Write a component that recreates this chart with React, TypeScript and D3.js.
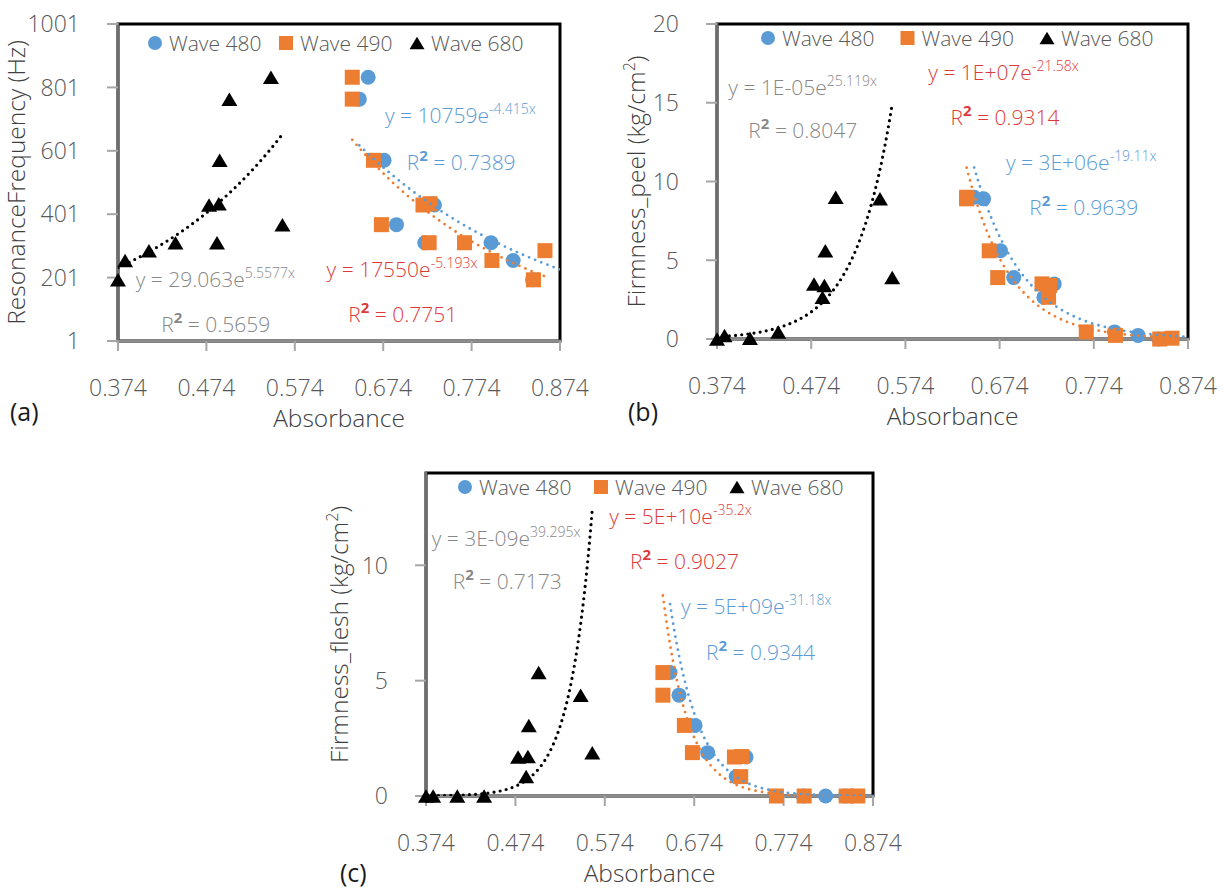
import React from 'react';
import * as d3 from 'd3';

const W = 1227;
const H = 890;
const FONT = "'Open Sans', 'DejaVu Sans', sans-serif";
const BLUE = '#5B9BD5';
const ORANGE = '#ED7D31';
const RED = '#DC3A3A';
const EQ_GRAY = '#878787';
const TEXT = '#595959';
const LIGHT = 300;

// absorbance of each sample at the three wavelengths
const absorbance480 = [0.843, 0.821, 0.88, 0.796, 0.732, 0.729, 0.721, 0.675, 0.647, 0.657, 0.689];
const absorbance490 = [0.844, 0.797, 0.857, 0.766, 0.719, 0.727, 0.726, 0.663, 0.639, 0.639, 0.672];
const absorbance680 = [0.374, 0.382, 0.409, 0.439, 0.477, 0.488, 0.486, 0.489, 0.5, 0.547, 0.56];

const resonanceHz = [194, 255, 286, 311, 430, 434, 311, 571, 764, 833, 368];
const firmnessPeel = [0, 0.23, 0.05, 0.45, 3.5, 3.4, 2.65, 5.6, 9.0, 8.9, 3.9];
const firmnessFlesh = [0, 0, 0, 0, 1.69, 1.71, 0.84, 3.06, 5.35, 4.37, 1.88];

const xTicks = [0.374, 0.474, 0.574, 0.674, 0.774, 0.874];
const rfTicks = [1, 201, 401, 601, 801, 1001];
const peelTicks = [0, 5, 10, 15, 20];
const fleshTicks = [0, 5, 10];
const seriesNames = ['Wave 480', 'Wave 490', 'Wave 680'];

// y = a * e^(b x), order: 480, 490, 680
const rfTrend = [[10759, -4.415], [17550, -5.193], [29.063, 5.5577]];
const peelTrend = [[2.55e6, -19.11], [1.06e7, -21.58], [1.16e-5, 25.119]];
const fleshTrend = [[4.8e9, -31.18], [5.1e10, -35.2], [3.45e-9, 39.295]];

// [coefficient, exponent, R²]
const rfEq = [['10759', '-4.415x', '0.7389'], ['17550', '-5.193x', '0.7751'], ['29.063', '5.5577x', '0.5659']];
const peelEq = [['3E+06', '-19.11x', '0.9639'], ['1E+07', '-21.58x', '0.9314'], ['1E-05', '25.119x', '0.8047']];
const fleshEq = [['5E+09', '-31.18x', '0.9344'], ['5E+10', '-35.2x', '0.9027'], ['3E-09', '39.295x', '0.7173']];

const seriesStyle = [
  { color: BLUE, shape: 'circle', text: BLUE },
  { color: ORANGE, shape: 'square', text: RED },
  { color: '#000', shape: 'triangle', text: EQ_GRAY },
];

// layout of each panel (pixels) and where its equation labels sit (data units: eqX, eqY, r2X, r2Y)
const panels = [
  {
    id: 'a', left: 118, right: 560, top: 24, bottom: 341, yDomain: [1, 1001], yTicks: rfTicks,
    values: resonanceHz, trend: rfTrend, eq: rfEq,
    labelPos: [[0.676, 688, 0.7006, 541], [0.61, 204, 0.6345, 62], [0.394, 171, 0.423, 30]],
    yTitle: ['ResonanceFrequency (Hz)', null], yTitleX: 25,
    legendX: 155, legendY: 43, legendStep: 131, letter: '(a)', letterX: 10, letterY: 421,
  },
  {
    id: 'b', left: 717, right: 1188, top: 24, bottom: 339, yDomain: [0, 20], yTicks: peelTicks,
    values: firmnessPeel, trend: peelTrend, eq: peelEq,
    labelPos: [[0.6808, 10.73, 0.7055, 7.87], [0.5983, 16.44, 0.622, 13.59], [0.386, 15.5, 0.4073, 12.74]],
    yTitle: ['Firmness_peel (kg/cm', ')'], yTitleX: 645,
    legendX: 768, legendY: 38, legendStep: 139.5, letter: '(b)', letterX: 628, letterY: 421,
  },
  {
    id: 'c', left: 426, right: 873, top: 473, bottom: 796, yDomain: [0, 14], yTicks: fleshTicks,
    values: firmnessFlesh, trend: fleshTrend, eq: fleshEq,
    labelPos: [[0.6592, 7.91, 0.6872, 5.91], [0.579, 11.78, 0.6022, 9.83], [0.3804, 10.84, 0.4039, 8.96]],
    yTitle: ['Firmness_flesh (kg/cm', ')'], yTitleX: 348,
    legendX: 465, legendY: 487, legendStep: 136, letter: '(c)', letterX: 340, letterY: 882,
  },
];

const absorbances = [absorbance480, absorbance490, absorbance680];

const Marker = ({ shape, color, x, y, s = 15 }) => {
  if (shape === 'circle') return <circle cx={x} cy={y} r={s / 2} fill={color} />;
  if (shape === 'square') return <rect x={x - s / 2} y={y - s / 2} width={s} height={s} fill={color} />;
  const h = s * 0.9;
  return <path d={`M${x},${y - h / 2}L${x + s / 2 + 0.5},${y + h / 2}L${x - s / 2 - 0.5},${y + h / 2}Z`} fill={color} />;
};

const Panel = ({ p }) => {
  const x = d3.scaleLinear().domain([0.374, 0.874]).range([p.left, p.right]);
  const y = d3.scaleLinear().domain(p.yDomain).range([p.bottom, p.top]);
  const clipId = `clip-${p.id}`;
  const midX = (p.left + p.right) / 2;
  const midY = (p.top + p.bottom) / 2;

  const trendPath = (si) => {
    const xs = absorbances[si];
    const [a, b] = p.trend[si];
    const [lo, hi] = d3.extent(xs);
    const pts = d3.range(0, 101).map((i) => lo + ((hi - lo) * i) / 100);
    return d3.line().x((d) => x(d)).y((d) => y(a * Math.exp(b * d)))(pts);
  };

  return (
    <g>
      <defs>
        <clipPath id={clipId}>
          <rect x={p.left} y={p.top - 2} width={p.right - p.left} height={p.bottom - p.top + 2} />
        </clipPath>
      </defs>
      <rect x={p.left} y={p.top} width={p.right - p.left} height={p.bottom - p.top} fill="#fff" stroke="#000" strokeWidth={3} />
      {/* axes */}
      <line x1={p.left} x2={p.left} y1={p.top - 1} y2={p.bottom} stroke="#6e6e6e" strokeWidth={2.5} />
      <line x1={p.left} x2={p.right + 1} y1={p.bottom} y2={p.bottom} stroke="#8c8c8c" strokeWidth={2.5} />
      {p.yTicks.map((t) => (
        <g key={`y${t}`}>
          <line x1={p.left - 11} x2={p.left} y1={y(t)} y2={y(t)} stroke="#a6a6a6" strokeWidth={2} />
          <text x={p.left - 38} y={y(t)} dy="0.36em" textAnchor="end" fontSize={23} fontWeight={LIGHT} fill={TEXT} fontFamily={FONT}>
            {t}
          </text>
        </g>
      ))}
      {xTicks.map((t) => (
        <g key={`x${t}`}>
          <line x1={x(t)} x2={x(t)} y1={p.bottom} y2={p.bottom + 10} stroke="#a6a6a6" strokeWidth={2} />
          <text x={x(t)} y={p.bottom + 55} textAnchor="middle" fontSize={23} fontWeight={LIGHT} fill={TEXT} fontFamily={FONT}>
            {t.toFixed(3)}
          </text>
        </g>
      ))}
      <text x={midX} y={p.bottom + 86} textAnchor="middle" fontSize={24.5} fontWeight={LIGHT} fill="#404040" fontFamily={FONT}>
        Absorbance
      </text>
      <text
        transform={`translate(${p.yTitleX},${midY}) rotate(-90)`}
        textAnchor="middle"
        fontSize={24.5}
        fontWeight={LIGHT}
        fill="#404040"
        fontFamily={FONT}
      >
        {p.yTitle[0]}
        {p.yTitle[1] && (
          <>
            <tspan dy={-10} fontSize={16}>2</tspan>
            <tspan dy={10}>{p.yTitle[1]}</tspan>
          </>
        )}
      </text>
      <text x={p.letterX} y={p.letterY} fontSize={25} fill="#1a1a1a" fontFamily={FONT}>
        {p.letter}
      </text>
      {/* markers */}
      {[0, 1, 2].map((si) =>
        absorbances[si].map((ax, i) =>
          ax >= 0.374 && ax <= 0.874 ? (
            <Marker key={`${si}-${i}`} shape={seriesStyle[si].shape} color={seriesStyle[si].color} x={x(ax)} y={y(p.values[i])} />
          ) : null
        )
      )}
      {/* trendlines */}
      <g clipPath={`url(#${clipId})`}>
        {[1, 0, 2].map((si) => (
          <path
            key={`t${si}`}
            d={trendPath(si)}
            fill="none"
            stroke={si === 2 ? '#000' : seriesStyle[si].color}
            strokeWidth={si === 2 ? 3.2 : 2.8}
            strokeDasharray={si === 2 ? '0 6.2' : '0 6.6'}
            strokeLinecap="round"
          />
        ))}
      </g>
      {/* equations */}
      {[0, 1, 2].map((si) => {
        const [ex, ey, rx, ry] = p.labelPos[si];
        const [coef, expo, r2] = p.eq[si];
        const col = seriesStyle[si].text;
        return (
          <g key={`eq${si}`} fontFamily={FONT} fill={col} fontWeight={LIGHT}>
            <text x={x(ex)} y={y(ey)} fontSize={21}>
              {`y = ${coef}e`}
              <tspan dy={-9} fontSize={14}>{expo}</tspan>
            </text>
            <text x={x(rx)} y={y(ry)} fontSize={21}>
              R
              <tspan dy={-9} fontSize={15} fontWeight="bold">2</tspan>
              <tspan dy={9}>{` = ${r2}`}</tspan>
            </text>
          </g>
        );
      })}
      {/* legend */}
      {seriesNames.map((name, si) => {
        const cx = p.legendX + si * p.legendStep;
        return (
          <g key={name}>
            <Marker shape={seriesStyle[si].shape} color={seriesStyle[si].color} x={cx} y={p.legendY} s={14} />
            <text x={cx + 14} y={p.legendY} dy="0.36em" fontSize={21} fontWeight={LIGHT} fill={TEXT} fontFamily={FONT}>
              {name}
            </text>
          </g>
        );
      })}
    </g>
  );
};

export default function App() {
  return (
    <svg width={W} height={H} style={{ position: 'absolute', left: 0, top: 0, background: '#fff' }}>
      <rect width={W} height={H} fill="#fff" />
      {panels.map((p) => (
        <Panel key={p.id} p={p} />
      ))}
    </svg>
  );
}
